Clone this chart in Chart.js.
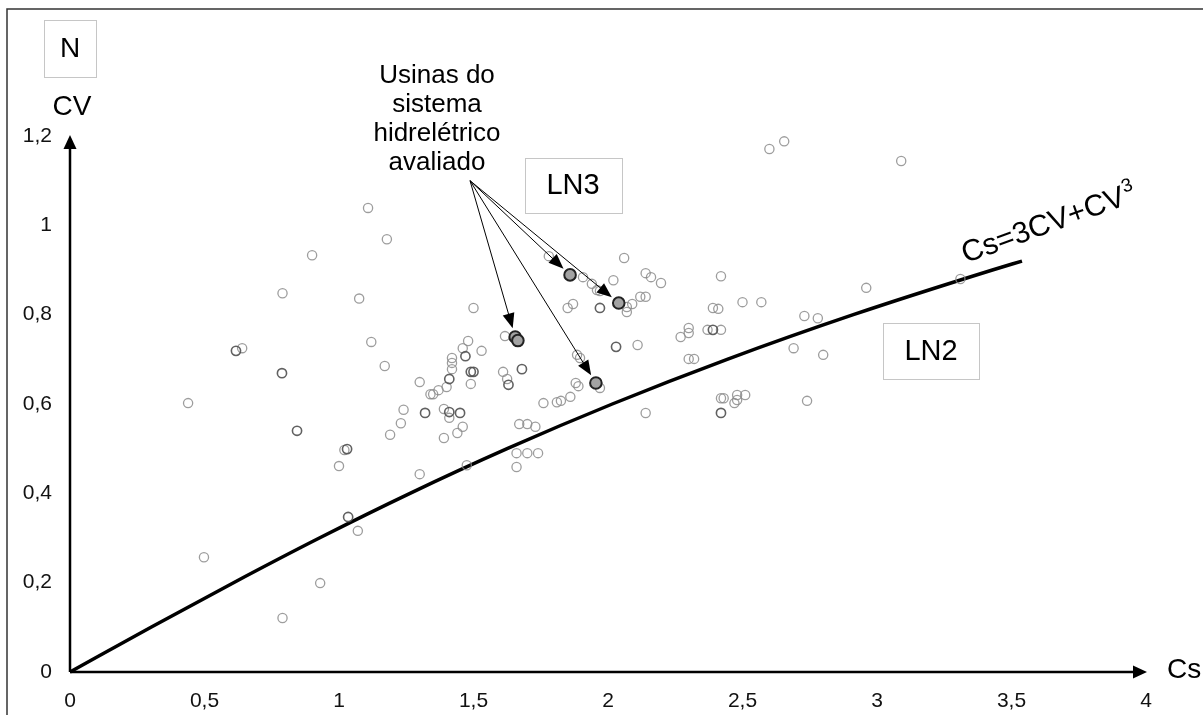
<!DOCTYPE html>
<html>
<head>
<meta charset="utf-8">
<script src="https://cdn.jsdelivr.net/npm/chart.js@4.4.1/dist/chart.umd.min.js"></script>
<style>
  html, body { margin: 0; padding: 0; background: #fff; }
  #wrap { width: 1203px; height: 715px; }
</style>
</head>
<body>
<div id="wrap"><canvas id="chart" width="1203" height="715"></canvas></div>
<script>
// Axis ticks
const xTicks = [0, 0.5, 1, 1.5, 2, 2.5, 3, 3.5, 4];
const yTicks = [0, 0.2, 0.4, 0.6, 0.8, 1, 1.2];

// Theoretical LN2 curve Cs = 3CV + CV^3 (Cs on x, CV on y)
const curveCs = [0, 0.301, 0.608, 0.927, 1.264, 1.625, 2.016, 2.443, 2.912, 3.429, 3.539];
const curveCv = [0, 0.1, 0.2, 0.3, 0.4, 0.5, 0.6, 0.7, 0.8, 0.9, 0.92];

// Other plants (light grey circles)
const lightCs = [0.498, 0.79, 0.93, 1.07, 0.439, 0.64, 1.02, 1.00, 1.12, 1.17, 1.19, 1.075, 0.90, 0.79, 1.108, 1.178,
  2.60, 2.655, 3.09, 1.78, 2.06, 1.907, 1.94, 1.959, 1.97, 2.02, 2.14, 2.16, 2.197, 2.42, 2.07, 2.09, 2.07, 2.12, 2.14,
  1.85, 1.87, 1.50, 2.50, 2.57, 2.39, 2.41, 1.617, 1.48, 1.46, 1.53, 1.42, 1.42, 1.42, 1.61, 1.625, 1.30, 2.27, 2.30,
  2.30, 2.37, 2.42, 2.11, 2.30, 2.32, 2.69, 1.885, 1.896, 1.34, 1.35, 1.37, 1.40, 1.49, 1.24, 1.23, 1.39, 1.41, 1.46,
  1.44, 1.39, 1.30, 1.475, 1.67, 1.70, 1.73, 1.66, 1.70, 1.74, 1.66, 1.76, 1.81, 1.825, 1.86, 1.88, 1.89, 1.97, 2.14,
  2.42, 2.43, 2.48, 2.48, 2.51, 2.47, 2.96, 3.31, 2.73, 2.78, 2.80, 2.74];
const lightCv = [0.257, 0.121, 0.199, 0.316, 0.602, 0.725, 0.497, 0.461, 0.739, 0.685, 0.531, 0.836, 0.933, 0.848, 1.039, 0.969,
  1.171, 1.188, 1.144, 0.931, 0.927, 0.884, 0.869, 0.855, 0.853, 0.877, 0.893, 0.884, 0.871, 0.886, 0.817, 0.824, 0.806, 0.840, 0.840,
  0.815, 0.824, 0.815, 0.828, 0.828, 0.815, 0.813, 0.752, 0.741, 0.725, 0.719, 0.703, 0.692, 0.678, 0.672, 0.656, 0.649, 0.750, 0.770,
  0.759, 0.766, 0.766, 0.732, 0.701, 0.701, 0.725, 0.710, 0.703, 0.622, 0.622, 0.631, 0.638, 0.645, 0.587, 0.557, 0.589, 0.569, 0.549,
  0.535, 0.524, 0.443, 0.463, 0.555, 0.555, 0.549, 0.490, 0.490, 0.490, 0.459, 0.602, 0.604, 0.607, 0.616, 0.647, 0.640, 0.636, 0.580,
  0.613, 0.613, 0.609, 0.620, 0.620, 0.602, 0.86, 0.88, 0.797, 0.792, 0.71, 0.607];

// Darker circles
const darkCs = [0.617, 0.788, 0.844, 1.03, 1.034, 1.97, 1.47, 1.49, 1.50, 1.68, 1.41, 2.39, 2.03, 1.32, 1.41, 1.45, 1.63, 2.42];
const darkCv = [0.719, 0.669, 0.540, 0.499, 0.347, 0.815, 0.707, 0.672, 0.672, 0.678, 0.656, 0.766, 0.728, 0.580, 0.582, 0.580, 0.643, 0.580];

// Plants of the evaluated hydro system
const evalCs = [1.655, 1.665, 1.859, 2.04, 1.955];
const evalCv = [0.750, 0.742, 0.889, 0.826, 0.647];
const arrowTargets = [0, 2, 3, 4];
const arrowFrom = [1.487, 1.10];

const noteLines = ['Usinas do', 'sistema', 'hidrelétrico', 'avaliado'];

const pts = (xs, ys) => xs.map((x, i) => ({ x: x, y: ys[i] }));
const FONT = 'Arial, "Liberation Sans", sans-serif';

function arrowHead(ctx, x1, y1, x2, y2, len, half) {
  const a = Math.atan2(y2 - y1, x2 - x1);
  ctx.beginPath();
  ctx.moveTo(x2, y2);
  ctx.lineTo(x2 - len * Math.cos(a) + half * Math.sin(a), y2 - len * Math.sin(a) - half * Math.cos(a));
  ctx.lineTo(x2 - len * Math.cos(a) - half * Math.sin(a), y2 - len * Math.sin(a) + half * Math.cos(a));
  ctx.closePath();
  ctx.fill();
}

function labelBox(ctx, text, cx, cy, w, h, size) {
  ctx.strokeStyle = '#c6c6c6';
  ctx.lineWidth = 1;
  ctx.strokeRect(Math.round(cx - w / 2) + 0.5, Math.round(cy - h / 2) + 0.5, w, h);
  ctx.fillStyle = '#000';
  ctx.font = size + 'px ' + FONT;
  ctx.textAlign = 'center';
  ctx.textBaseline = 'middle';
  ctx.fillText(text, cx, cy + 1);
}

const decor = {
  id: 'decor',
  beforeDatasetsDraw(chart) {
    const ctx = chart.ctx;
    const xs = chart.scales.x, ys = chart.scales.y;
    const x0 = xs.getPixelForValue(0), y0 = ys.getPixelForValue(0);
    const yTop = ys.getPixelForValue(1.2), xEnd = xs.getPixelForValue(4);
    ctx.save();
    // outer frame (runs off the right and bottom edges)
    ctx.strokeStyle = '#333';
    ctx.lineWidth = 1.5;
    ctx.strokeRect(7, 9, 1300, 800);

    // axes with arrows
    ctx.strokeStyle = '#000';
    ctx.fillStyle = '#000';
    ctx.lineWidth = 2.5;
    ctx.beginPath();
    ctx.moveTo(x0, y0);
    ctx.lineTo(x0, yTop + 8);
    ctx.moveTo(x0, y0);
    ctx.lineTo(xEnd - 8, y0);
    ctx.stroke();
    arrowHead(ctx, x0, y0, x0, yTop - 1, 14, 6.5);
    arrowHead(ctx, x0, y0, xEnd + 1, y0, 14, 6.5);

    // tick labels
    ctx.font = '21px ' + FONT;
    ctx.fillStyle = '#111';
    ctx.textAlign = 'center';
    ctx.textBaseline = 'middle';
    xTicks.forEach(v => ctx.fillText(String(v).replace('.', ','), xs.getPixelForValue(v), y0 + 29));
    ctx.textAlign = 'right';
    yTicks.forEach(v => ctx.fillText(String(v).replace('.', ','), x0 - 18, ys.getPixelForValue(v)));

    // axis titles
    ctx.font = '28px ' + FONT;
    ctx.fillStyle = '#000';
    ctx.textAlign = 'center';
    ctx.fillText('CV', x0 + 2, yTop - 29);
    ctx.textAlign = 'left';
    ctx.fillText('Cs', xEnd + 21, y0 - 2);
    ctx.restore();
  },
  afterDatasetsDraw(chart) {
    const ctx = chart.ctx;
    const xs = chart.scales.x, ys = chart.scales.y;
    ctx.save();
    labelBox(ctx, 'N', 70, 48, 52, 57, 28);
    labelBox(ctx, 'LN3', 573, 185, 97, 55, 29);
    labelBox(ctx, 'LN2', 931, 351, 96, 56, 29);

    // note text
    ctx.font = '26px ' + FONT;
    ctx.fillStyle = '#000';
    ctx.textAlign = 'center';
    ctx.textBaseline = 'alphabetic';
    noteLines.forEach((t, i) => ctx.fillText(t, 437, 83 + i * 29));

    // arrows to evaluated plants
    const fx = xs.getPixelForValue(arrowFrom[0]), fy = ys.getPixelForValue(arrowFrom[1]);
    ctx.strokeStyle = '#000';
    ctx.fillStyle = '#000';
    ctx.lineWidth = 1;
    arrowTargets.forEach(i => {
      const tx = xs.getPixelForValue(evalCs[i]), ty = ys.getPixelForValue(evalCv[i]);
      const d = Math.hypot(tx - fx, ty - fy);
      const ex = tx - (tx - fx) / d * 9, ey = ty - (ty - fy) / d * 9;
      ctx.beginPath();
      ctx.moveTo(fx, fy);
      ctx.lineTo(ex - (tx - fx) / d * 10, ey - (ty - fy) / d * 10);
      ctx.stroke();
      arrowHead(ctx, fx, fy, ex, ey, 15, 6);
    });

    // equation label along the curve end
    const px = xs.getPixelForValue(3.33), py = ys.getPixelForValue(0.915);
    ctx.translate(px, py);
    ctx.rotate(-20 * Math.PI / 180);
    ctx.font = '30px ' + FONT;
    ctx.textAlign = 'left';
    ctx.fillText('Cs=3CV+CV', 0, 0);
    const w = ctx.measureText('Cs=3CV+CV').width;
    ctx.font = '19px ' + FONT;
    ctx.fillText('3', w + 1, -12);
    ctx.restore();
  }
};

new Chart(document.getElementById('chart'), {
  type: 'scatter',
  data: {
    datasets: [
      {
        type: 'line',
        data: pts(curveCs, curveCv),
        borderColor: '#000',
        borderWidth: 3.5,
        pointRadius: 0,
        cubicInterpolationMode: 'monotone',
        fill: false,
        order: 4
      },
      {
        data: pts(lightCs, lightCv),
        pointRadius: 4.6,
        borderWidth: 1.3,
        borderColor: 'rgba(140,140,140,0.85)',
        backgroundColor: 'rgba(0,0,0,0)',
        order: 3
      },
      {
        data: pts(darkCs, darkCv),
        pointRadius: 4.6,
        borderWidth: 1.6,
        borderColor: 'rgba(80,80,80,0.9)',
        backgroundColor: 'rgba(0,0,0,0)',
        order: 2
      },
      {
        data: pts(evalCs, evalCv),
        pointRadius: 5.8,
        borderWidth: 2,
        borderColor: '#222',
        backgroundColor: '#a3a3a3',
        order: 1
      }
    ]
  },
  options: {
    responsive: false,
    animation: false,
    devicePixelRatio: 1,
    layout: { padding: { left: 70, right: 57, top: 136, bottom: 43 } },
    scales: {
      x: { type: 'linear', min: 0, max: 4, display: false },
      y: { type: 'linear', min: 0, max: 1.2, display: false }
    },
    plugins: { legend: { display: false }, tooltip: { enabled: false } },
    elements: { line: { tension: 0 } },
    clip: false
  },
  plugins: [decor]
});
</script>
</body>
</html>
